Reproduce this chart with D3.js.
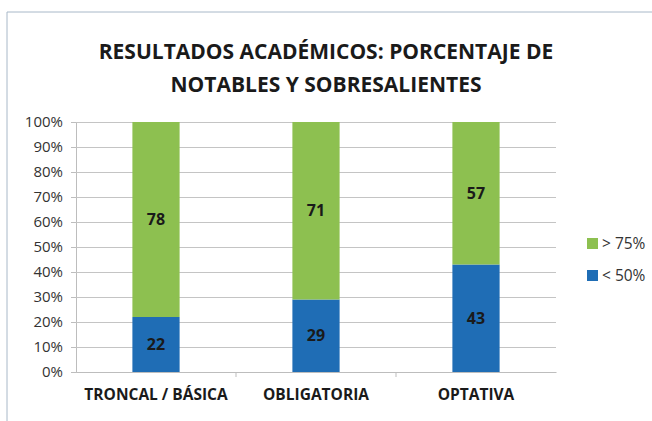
<!DOCTYPE html>
<html lang='es'>
<head>
<meta charset='utf-8'/>
<title>Resultados académicos</title>
<script src='https://d3js.org/d3.v7.min.js'></script>
<style>
  body{margin:0;background:#fff;}
  svg{display:block;font-family:'Open Sans',sans-serif;}
</style>
</head>
<body>
<svg id='chart'></svg>
<script>
// data
const categories = ['TRONCAL / BÁSICA', 'OBLIGATORIA', 'OPTATIVA'];
const below50 = [22, 29, 43];
const above75 = [78, 71, 57];
const yTicks = [0, 10, 20, 30, 40, 50, 60, 70, 80, 90, 100];
const seriesNames = ['> 75%', '< 50%'];

const W = 652, H = 421;
const plot = {left: 76, right: 556, top: 122, bottom: 372};
const green = '#8dc050', blue = '#1f6db5';
const FONT = "'Open Sans',sans-serif";

const svg = d3.select('#chart').attr('width', W).attr('height', H);

// frame
svg.append('path')
  .attr('d', `M7,${H} L7,12 L${W},12`)
  .attr('fill', 'none').attr('stroke', '#a8b8c8').attr('stroke-width', 1);

// title
const title = svg.append('text').attr('text-anchor', 'middle')
  .attr('font-weight', 700).attr('font-size', 21).attr('fill', '#1a1a1a');
title.append('tspan').attr('x', 326).attr('y', 59).text('RESULTADOS ACADÉMICOS: PORCENTAJE DE');
title.append('tspan').attr('x', 326).attr('y', 92).text('NOTABLES Y SOBRESALIENTES');

const x = d3.scaleBand().domain(categories).range([plot.left, plot.right]).paddingInner(0).paddingOuter(0);
const y = d3.scaleLinear().domain([0, 100]).range([plot.bottom, plot.top]);
const barW = x.bandwidth() * 0.295;

// gridlines + y axis
const yAxis = svg.append('g').attr('transform', `translate(${plot.left},0)`)
  .call(d3.axisLeft(y).tickValues(yTicks).tickFormat(d => d + '%')
    .tickSize(5).tickSizeOuter(0).tickPadding(8));
yAxis.select('.domain').attr('stroke', '#bdbdbd');
yAxis.selectAll('.tick line').attr('stroke', '#bdbdbd');
yAxis.selectAll('.tick text').attr('font-size', 15).attr('fill', '#333').attr('font-family', FONT);
yAxis.selectAll('.tick').append('line')
  .attr('x1', 0).attr('x2', plot.right - plot.left)
  .attr('stroke', '#c4c4c4');

// x axis
const xAxis = svg.append('g').attr('transform', `translate(0,${plot.bottom})`)
  .call(d3.axisBottom(x).tickSize(0).tickPadding(17));
xAxis.select('.domain').attr('stroke', '#bdbdbd');
xAxis.selectAll('.tick text').attr('font-size', 15.5).attr('font-weight', 700)
  .attr('fill', '#1a1a1a').attr('font-family', FONT);
xAxis.selectAll('.sep').data(categories.slice(1)).join('line')
  .attr('x1', d => x(d)).attr('x2', d => x(d))
  .attr('y1', 0).attr('y2', 5).attr('stroke', '#bdbdbd');

// stacked bars
const rows = categories.map((c, i) => ({cat: c, lo: below50[i], hi: above75[i]}));
const bars = svg.append('g');
rows.forEach(d => {
  const cx = x(d.cat) + x.bandwidth() / 2;
  bars.append('rect').attr('x', cx - barW / 2).attr('width', barW)
    .attr('y', y(d.lo)).attr('height', y(0) - y(d.lo)).attr('fill', blue);
  bars.append('rect').attr('x', cx - barW / 2).attr('width', barW)
    .attr('y', y(d.lo + d.hi)).attr('height', y(d.lo) - y(d.lo + d.hi)).attr('fill', green);
  bars.append('text').attr('x', cx).attr('y', y(d.lo / 2)).attr('dy', '0.35em')
    .attr('text-anchor', 'middle').attr('font-size', 16).attr('font-weight', 700)
    .attr('fill', '#1a1a1a').text(d.lo);
  bars.append('text').attr('x', cx).attr('y', y(d.lo + d.hi / 2)).attr('dy', '0.35em')
    .attr('text-anchor', 'middle').attr('font-size', 16).attr('font-weight', 700)
    .attr('fill', '#1a1a1a').text(d.hi);
});

// legend
const legend = svg.append('g').attr('transform', 'translate(587,238)');
[green, blue].forEach((c, i) => {
  const g = legend.append('g').attr('transform', `translate(0,${i * 32})`);
  g.append('rect').attr('width', 11).attr('height', 11).attr('fill', c);
  g.append('text').attr('x', 15).attr('y', 6).attr('dy', '0.35em')
    .attr('font-size', 15.5).attr('fill', '#333').text(seriesNames[i]);
});
</script>
</body>
</html>
